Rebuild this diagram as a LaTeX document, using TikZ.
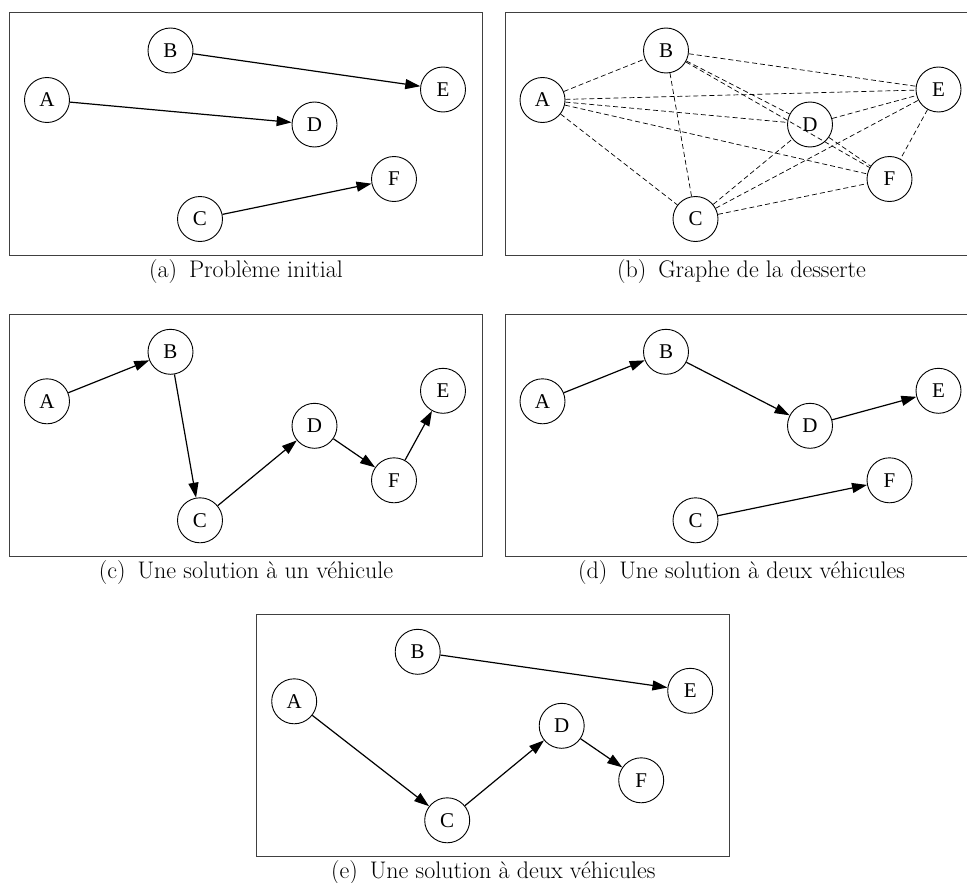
\documentclass[tikz,border=0pt]{standalone}
\usepackage{fontspec}
\newfontfamily\stopfont{Liberation Serif}
\usetikzlibrary{arrows.meta}

\tikzset{
  stop/.style={circle, draw, line width=0.9pt, minimum size=45pt, inner sep=0pt,
    font=\stopfont\fontsize{21}{21}\selectfont},
  panel/.style={draw=black!75, line width=1pt},
  route/.style={-{Triangle[length=15pt,width=10pt]}, line width=1.2pt},
  link/.style={dash pattern=on 5pt off 3pt, line width=0.7pt},
  legend/.style={anchor=base, font=\fontsize{24}{28}\selectfont}
}

\begin{document}
\begin{tikzpicture}[x=1pt, y=-1pt]
  \useasboundingbox (0,0) rectangle (967,883);
  % five panels with the same six stops
  \foreach \p/\x/\y/\txt in {a/9.5/13/Problème initial,
                             b/505/13/Graphe de la desserte,
                             c/9.5/314.3/Une solution à un véhicule,
                             d/505/314.3/Une solution à deux véhicules,
                             e/256.7/614.3/Une solution à deux véhicules} {
    \begin{scope}[shift={(\x,\y)}]
      \draw[panel] (0,0) rectangle (473,242.5);
      \node[stop] (\p A) at (37.5,87) {A};
      \node[stop] (\p B) at (161,37.5) {B};
      \node[stop] (\p C) at (190.5,206) {C};
      \node[stop] (\p D) at (305,111.5) {D};
      \node[stop] (\p E) at (433.5,76.5) {E};
      \node[stop] (\p F) at (384.5,166) {F};
      \node[legend] (\p cap) at (236.5,264.5) {(\p)\enspace\txt};
    \end{scope}
  }

  % (a) initial requests
  \draw[route] (aB) -- (aE);
  \draw[route] (aA) -- (aD);
  \draw[route] (aC) -- (aF);

  % (b) every pair is linked
  \foreach \s/\t in {A/B, A/C, A/D, A/E, A/F, B/C, B/D, B/E, B/F,
                     C/D, C/E, C/F, D/E, D/F, E/F}
    \draw[link] (b\s) -- (b\t);

  % (c) one vehicle
  \draw[route] (cA) -- (cB);
  \draw[route] (cB) -- (cC);
  \draw[route] (cC) -- (cD);
  \draw[route] (cD) -- (cF);
  \draw[route] (cF) -- (cE);

  % (d) two vehicles
  \draw[route] (dA) -- (dB);
  \draw[route] (dB) -- (dD);
  \draw[route] (dD) -- (dE);
  \draw[route] (dC) -- (dF);

  % (e) two vehicles, other split
  \draw[route] (eB) -- (eE);
  \draw[route] (eA) -- (eC);
  \draw[route] (eC) -- (eD);
  \draw[route] (eD) -- (eF);
\end{tikzpicture}
\end{document}
